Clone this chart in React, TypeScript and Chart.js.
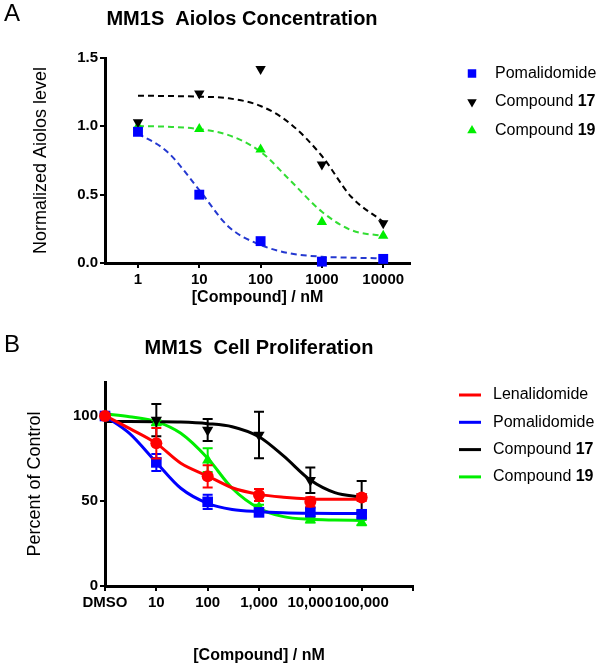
import React, { useEffect, useRef } from "react";
import { Chart, registerables } from "chart.js";
Chart.register(...registerables);

const FONT = "Arial, 'Liberation Sans', Helvetica, sans-serif";

// ---------- Panel A : MM1S Aiolos Concentration ----------
const A_CONC = [1, 10, 100, 1000, 10000];
const A_X_TICKS = [1, 10, 100, 1000, 10000];
const A_X_LABELS = ["1", "10", "100", "1000", "10000"];
const A_Y_TICKS = [0, 0.5, 1.0, 1.5];
const A_SERIES = ["Pomalidomide", "Compound 17", "Compound 19"];
const A_POMA = [0.96, 0.5, 0.16, 0.01, 0.03];
const A_C17 = [1.03, 1.24, 1.42, 0.72, 0.29];
const A_C19 = [1.0, 0.98, 0.83, 0.3, 0.2];
// fitted curves
const A_FIT_X = [1, 3, 10, 30, 100, 300, 1000, 3000, 10000];
const A_FIT_POMA = [0.948, 0.814, 0.534, 0.266, 0.132, 0.071, 0.046, 0.039, 0.034];
const A_FIT_C17 = [1.224, 1.222, 1.217, 1.205, 1.149, 1.022, 0.783, 0.485, 0.302];
const A_FIT_C19 = [1.002, 0.997, 0.98, 0.936, 0.814, 0.607, 0.375, 0.241, 0.197];

// ---------- Panel B : MM1S Cell Proliferation ----------
const B_CONC = [1, 10, 100, 1000, 10000, 100000]; // first = DMSO
const B_X_TICKS = [1, 10, 100, 1000, 10000, 100000, 1000000];
const B_X_LABELS = ["DMSO", "10", "100", "1,000", "10,000", "100,000", ""];
const B_Y_TICKS = [0, 50, 100];
const B_SERIES = ["Lenalidomide", "Pomalidomide", "Compound 17", "Compound 19"];
const B_LENA = [100, 84, 64.5, 53.5, 49.5, 52];
const B_LENA_ERR = [0, 9, 6.5, 3.5, 2.7, 2];
const B_POMA = [100, 72.7, 49.5, 43.3, 43.5, 42.2];
const B_POMA_ERR = [0, 5, 4.2, 1.5, 2.5, 2];
const B_C17 = [100, 97.6, 91.8, 88.8, 62.2, 52.5];
const B_C17_ERR = [0, 9.5, 6.5, 13.7, 7.5, 9.3];
const B_C19 = [100, 96, 74, 46.3, 38.8, 37.3];
const B_C19_ERR = [0, 1.5, 7, 1.5, 1.5, 1.5];
const B_FIT_X = [1, 3, 10, 30, 100, 300, 1000, 3000, 10000, 30000, 100000];
const B_FIT_LENA = [100.2, 92.7, 83.9, 72.2, 64.7, 57.8, 53.9, 52.2, 51.2, 51.0, 51.0];
const B_FIT_POMA = [100, 89.8, 72.7, 57.5, 48.6, 45, 43.7, 43.1, 42.8, 42.7, 42.7];
const B_FIT_C17 = [96.7, 96.7, 96.6, 96.4, 95.5, 93.7, 87.8, 76.5, 62.3, 54.9, 52.2];
const B_FIT_C19 = [101.2, 99.6, 96.7, 89.8, 75.1, 57.5, 45.7, 40.8, 39.2, 38.8, 38.6];

const BLUE = "#0000ff";
const BLUE_LINE = "#2438d0";
const BLACK = "#000000";
const GREEN = "#00ee00";
const GREEN_LINE = "#33dd33";
const RED = "#ff0000";

const pts = (xs: number[], ys: number[]) => xs.map((x, i) => ({ x, y: ys[i] }));

function drawMarker(ctx: CanvasRenderingContext2D, style: string, rot: number, x: number, y: number, r: number, color: string) {
  ctx.save();
  ctx.fillStyle = color;
  ctx.beginPath();
  if (style === "rect") {
    const s = r * Math.SQRT1_2;
    ctx.rect(x - s, y - s, 2 * s, 2 * s);
  } else if (style === "circle") {
    ctx.arc(x, y, r, 0, Math.PI * 2);
  } else {
    const d = rot === 180 ? -1 : 1;
    for (let k = 0; k < 3; k++) {
      const a = (-Math.PI / 2) + (k * 2 * Math.PI) / 3;
      const px = x + Math.cos(a) * r;
      const py = y + Math.sin(a) * r * d;
      if (k === 0) ctx.moveTo(px, py);
      else ctx.lineTo(px, py);
    }
    ctx.closePath();
  }
  ctx.fill();
  ctx.restore();
}

const decorPlugin = {
  id: "decor",
  afterDraw(chart: any, _a: any, opts: any) {
    const ctx: CanvasRenderingContext2D = chart.ctx;
    ctx.save();
    ctx.fillStyle = "#000";
    ctx.textBaseline = "middle";
    ctx.textAlign = "left";
    ctx.font = `24px ${FONT}`;
    ctx.fillText(opts.letter, opts.letterX, opts.letterY);
    ctx.textAlign = "center";
    ctx.font = `bold 20px ${FONT}`;
    ctx.fillText(opts.title, opts.titleX, opts.titleY);
    (opts.items || []).forEach((it: any, i: number) => {
      const y = opts.legendY + i * opts.legendGap;
      if (it.line) {
        ctx.save();
        ctx.strokeStyle = it.color;
        ctx.lineWidth = 3;
        ctx.beginPath();
        ctx.moveTo(opts.markerX - 11, y);
        ctx.lineTo(opts.markerX + 11, y);
        ctx.stroke();
        ctx.restore();
      } else {
        drawMarker(ctx, it.style, it.rotation || 0, opts.markerX, y, it.radius, it.color);
      }
      ctx.fillStyle = "#000";
      ctx.textAlign = "left";
      const m = /^(.*\s)(\d+)$/.exec(it.label);
      ctx.font = `16px ${FONT}`;
      if (m) {
        ctx.fillText(m[1], opts.textX, y);
        const w = ctx.measureText(m[1]).width;
        ctx.font = `bold 16px ${FONT}`;
        ctx.fillText(m[2], opts.textX + w, y);
      } else {
        ctx.fillText(it.label, opts.textX, y);
      }
    });
    ctx.restore();
  },
};

const errorBarPlugin = {
  id: "errbars",
  beforeDatasetDraw(chart: any, args: any) {
    const ds = chart.data.datasets[args.index];
    if (!ds.errors) return;
    const ctx: CanvasRenderingContext2D = chart.ctx;
    const ys = chart.scales.y;
    ctx.save();
    ctx.strokeStyle = ds.errColor || ds.backgroundColor;
    ctx.lineWidth = 2;
    args.meta.data.forEach((el: any, i: number) => {
      const e = ds.errors[i];
      if (!e) return;
      const v = ds.data[i].y;
      const t = ys.getPixelForValue(v + e);
      const b = ys.getPixelForValue(v - e);
      ctx.beginPath();
      ctx.moveTo(el.x, t);
      ctx.lineTo(el.x, b);
      ctx.moveTo(el.x - 5, t);
      ctx.lineTo(el.x + 5, t);
      ctx.moveTo(el.x - 5, b);
      ctx.lineTo(el.x + 5, b);
      ctx.stroke();
    });
    ctx.restore();
  },
};

const tickFont = { family: FONT, size: 15, weight: "bold" as const };
const gridOpts = { display: true, drawOnChartArea: false, drawTicks: true, tickLength: 5, color: "#000", lineWidth: 2 };
const borderOpts = { display: true, color: "#000", width: 3 };

function xAxis(min: number, max: number, ticks: number[], labels: string[], height: number, titlePad: number) {
  return {
    type: "logarithmic",
    position: "bottom",
    min,
    max,
    bounds: "data",
    afterBuildTicks: (s: any) => {
      s.ticks = ticks.map((v) => ({ value: v }));
    },
    afterFit: (s: any) => {
      s.height = height;
    },
    ticks: {
      callback: (_v: any, i: number) => labels[i],
      autoSkip: false,
      maxRotation: 0,
      minRotation: 0,
      color: "#000",
      font: tickFont,
      padding: 3,
    },
    grid: gridOpts,
    border: borderOpts,
    title: {
      display: true,
      text: "[Compound] / nM",
      color: "#000",
      font: { family: FONT, size: 16, weight: "bold" },
      padding: { top: 0, bottom: titlePad },
    },
  };
}

function yAxis(min: number, max: number, ticks: number[], fmt: (v: number) => string, title: string, titlePad: number) {
  return {
    type: "linear",
    position: "left",
    min,
    max,
    bounds: "data",
    afterBuildTicks: (s: any) => {
      s.ticks = ticks.map((v) => ({ value: v }));
    },
    afterFit: (s: any) => {
      s.width = 105;
    },
    ticks: { callback: (v: any) => fmt(Number(v)), color: "#000", font: tickFont, padding: 2 },
    grid: gridOpts,
    border: borderOpts,
    title: {
      display: true,
      text: title,
      color: "#000",
      font: { family: FONT, size: 18, weight: "normal" },
      padding: { top: titlePad, bottom: 0 },
    },
  };
}

function configA(): any {
  const fit = (ys: number[], color: string, order: number) => ({
    data: pts(A_FIT_X, ys),
    showLine: true,
    borderColor: color,
    borderWidth: 2,
    borderDash: [6, 4],
    pointRadius: 0,
    cubicInterpolationMode: "monotone",
    fill: false,
    order,
    clip: false,
  });
  const mk = (label: string, ys: number[], color: string, style: string, radius: number, rot: number, order: number) => ({
    label,
    data: pts(A_CONC, ys),
    showLine: false,
    pointStyle: style,
    pointRadius: radius,
    pointRotation: rot,
    pointBackgroundColor: color,
    pointBorderColor: color,
    pointBorderWidth: 0,
    backgroundColor: color,
    borderColor: color,
    order,
    clip: false,
  });
  return {
    type: "scatter",
    data: {
      datasets: [
        fit(A_FIT_POMA, BLUE_LINE, 10),
        fit(A_FIT_C17, BLACK, 11),
        fit(A_FIT_C19, GREEN_LINE, 12),
        mk(A_SERIES[0], A_POMA, BLUE, "rect", 7, 0, 0),
        mk(A_SERIES[1], A_C17, BLACK, "triangle", 6, 180, 1),
        mk(A_SERIES[2], A_C19, GREEN, "triangle", 6, 0, 2),
      ],
    },
    options: {
      responsive: false,
      animation: false,
      events: [],
      layout: { padding: { left: 0, right: 190, top: 58, bottom: 0 } },
      scales: {
        x: xAxis(Math.pow(10, -0.538), Math.pow(10, 4.437), A_X_TICKS, A_X_LABELS, 47, 3),
        y: yAxis(0, 1.5, A_Y_TICKS, (v) => v.toFixed(1), "Normalized Aiolos level", 30),
      },
      plugins: {
        legend: { display: false },
        tooltip: { enabled: false },
        decor: {
          letter: "A",
          letterX: 4,
          letterY: 14,
          title: "MM1S  Aiolos Concentration",
          titleX: 242,
          titleY: 19,
          markerX: 472,
          textX: 495,
          legendY: 73.5,
          legendGap: 28.5,
          items: [
            { label: A_SERIES[0], color: BLUE, style: "rect", radius: 6 },
            { label: A_SERIES[1], color: BLACK, style: "triangle", rotation: 180, radius: 5.5 },
            { label: A_SERIES[2], color: GREEN, style: "triangle", rotation: 0, radius: 5.5 },
          ],
        },
      },
    },
    plugins: [decorPlugin, errorBarPlugin],
  };
}

function configB(): any {
  const fit = (ys: number[], color: string, order: number) => ({
    data: pts(B_FIT_X, ys),
    showLine: true,
    borderColor: color,
    borderWidth: 3,
    pointRadius: 0,
    cubicInterpolationMode: "monotone",
    fill: false,
    order,
    clip: false,
  });
  const mk = (label: string, ys: number[], errs: number[], color: string, style: string, radius: number, rot: number, order: number) => ({
    label,
    data: pts(B_CONC, ys),
    errors: errs,
    showLine: false,
    pointStyle: style,
    pointRadius: radius,
    pointRotation: rot,
    pointBackgroundColor: color,
    pointBorderColor: color,
    pointBorderWidth: 0,
    backgroundColor: color,
    borderColor: color,
    order,
    clip: false,
  });
  return {
    type: "scatter",
    data: {
      datasets: [
        fit(B_FIT_C19, GREEN, 13),
        fit(B_FIT_C17, BLACK, 12),
        fit(B_FIT_POMA, BLUE, 11),
        fit(B_FIT_LENA, RED, 10),
        mk(B_SERIES[3], B_C19, B_C19_ERR, GREEN, "triangle", 6.5, 0, 3),
        mk(B_SERIES[2], B_C17, B_C17_ERR, BLACK, "triangle", 6.5, 180, 2),
        mk(B_SERIES[1], B_POMA, B_POMA_ERR, BLUE, "rect", 7.5, 0, 1),
        mk(B_SERIES[0], B_LENA, B_LENA_ERR, RED, "circle", 6, 0, 0),
      ],
    },
    options: {
      responsive: false,
      animation: false,
      events: [],
      layout: { padding: { left: 0, right: 187, top: 72, bottom: 0 } },
      scales: {
        x: xAxis(1, 1000000, B_X_TICKS, B_X_LABELS, 79, 0),
        y: yAxis(0, 120, B_Y_TICKS, (v) => String(v), "Percent of Control", 24),
      },
      plugins: {
        legend: { display: false },
        tooltip: { enabled: false },
        decor: {
          letter: "B",
          letterX: 4,
          letterY: 35,
          title: "MM1S  Cell Proliferation",
          titleX: 259,
          titleY: 38.5,
          markerX: 470,
          textX: 493,
          legendY: 85,
          legendGap: 27.3,
          items: [
            { label: B_SERIES[0], color: RED, line: true },
            { label: B_SERIES[1], color: BLUE, line: true },
            { label: B_SERIES[2], color: BLACK, line: true },
            { label: B_SERIES[3], color: GREEN, line: true },
          ],
        },
      },
    },
    plugins: [decorPlugin, errorBarPlugin],
  };
}

export default function App() {
  const refA = useRef<HTMLCanvasElement>(null);
  const refB = useRef<HTMLCanvasElement>(null);
  useEffect(() => {
    const a = new Chart(refA.current as HTMLCanvasElement, configA());
    const b = new Chart(refB.current as HTMLCanvasElement, configB());
    return () => {
      a.destroy();
      b.destroy();
    };
  }, []);
  return (
    <div style={{ position: "absolute", left: 0, top: 0, width: 600, height: 665, background: "#fff" }}>
      <canvas ref={refA} width={600} height={310} style={{ position: "absolute", left: 0, top: 0, width: 600, height: 310 }} />
      <canvas ref={refB} width={600} height={355} style={{ position: "absolute", left: 0, top: 310, width: 600, height: 355 }} />
    </div>
  );
}
